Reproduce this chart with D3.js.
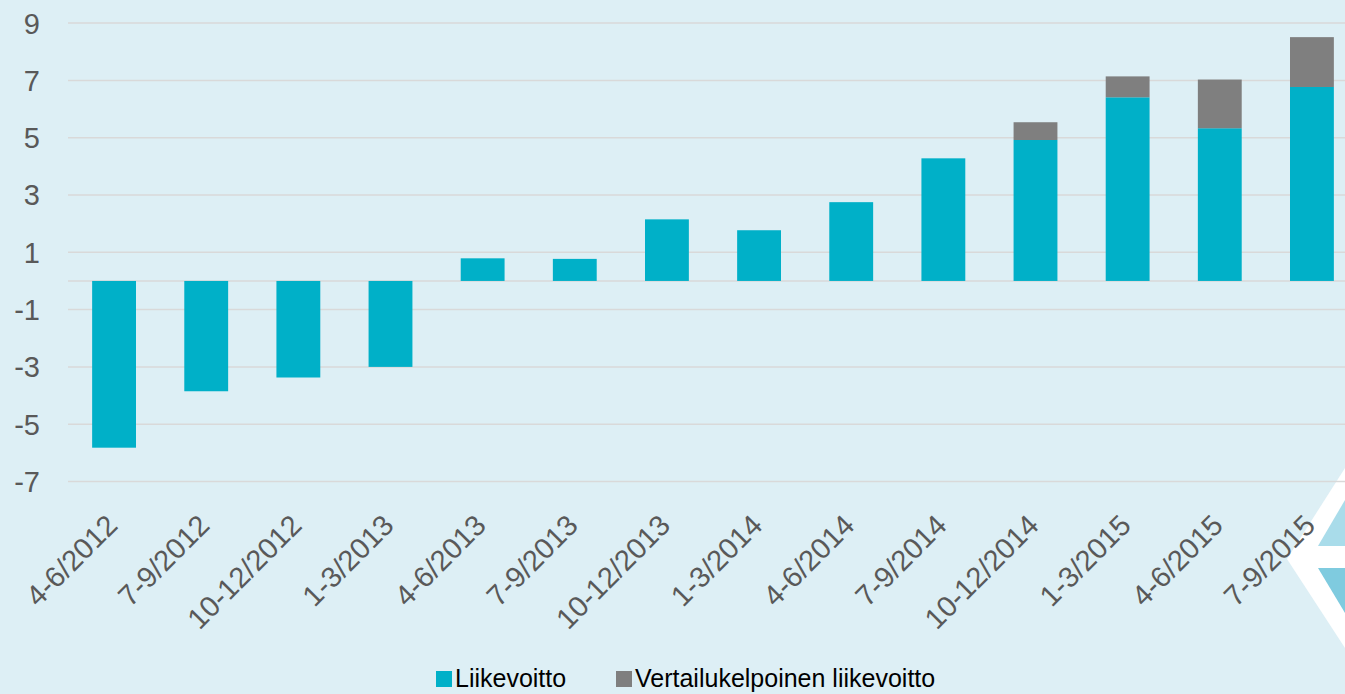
<!DOCTYPE html>
<html lang="fi">
<head>
    <meta charset="UTF-8">
    <title>Liikevoitto</title>
    <script src="https://d3js.org/d3.v7.min.js"></script>
    <style>
        body { margin: 0; background: #ddeff5; overflow: hidden; }
        svg { display: block; font-family: "Liberation Sans", Arial, sans-serif; }
    </style>
</head>
<body>
    <div id="chart"></div>
    <script>
        // data
        const quarters = ['4-6/2012', '7-9/2012', '10-12/2012', '1-3/2013', '4-6/2013', '7-9/2013',
            '10-12/2013', '1-3/2014', '4-6/2014', '7-9/2014', '10-12/2014', '1-3/2015', '4-6/2015', '7-9/2015'];
        const liikevoitto = [-5.82, -3.85, -3.37, -3.0, 0.79, 0.77, 2.15, 1.77, 2.75, 4.28, 4.92, 6.41, 5.33, 6.77];
        // stacked part on top of liikevoitto
        const vertailukelpoinen = [0, 0, 0, 0, 0, 0, 0, 0, 0, 0, 0.62, 0.73, 1.70, 1.74];
        const yTicks = [-7, -5, -3, -1, 1, 3, 5, 7, 9];
        const seriesNames = ['Liikevoitto', 'Vertailukelpoinen liikevoitto'];
        const colors = ['#00b0c8', '#7f7f7f'];

        const width = 1345, height = 694;
        const svg = d3.select('#chart').append('svg')
            .attr('width', width)
            .attr('height', height);

        // corner decoration
        const deco = svg.append('g');
        deco.append('polygon').attr('points', '1345,468 1287,559 1345,648').attr('fill', '#ffffff');
        deco.append('polygon').attr('points', '1345,500 1318,546 1345,546').attr('fill', '#a9dcea');
        deco.append('polygon').attr('points', '1318,568 1345,568 1345,613').attr('fill', '#7fcbdf');

        const x = d3.scaleBand()
            .domain(quarters)
            .range([68, 1358])
            .paddingInner(0.524)
            .paddingOuter(0.262);

        const y = d3.scaleLinear()
            .domain([-7, 9])
            .range([481.5, 23.1]);

        // gridlines
        svg.append('g')
            .selectAll('line')
            .data(yTicks.concat([0]))
            .join('line')
            .attr('x1', 68)
            .attr('x2', width)
            .attr('y1', d => y(d))
            .attr('y2', d => y(d))
            .attr('stroke', '#d9d9d9')
            .attr('stroke-width', 1.5);

        // y labels
        svg.append('g')
            .selectAll('text')
            .data(yTicks)
            .join('text')
            .attr('x', 40)
            .attr('y', d => y(d))
            .attr('dy', '0.36em')
            .attr('text-anchor', 'end')
            .attr('font-size', 29)
            .attr('fill', '#595959')
            .text(d => d);

        const rows = quarters.map((q, i) => ({ q, a: liikevoitto[i], b: vertailukelpoinen[i] }));
        const stack = d3.stack().keys(['a', 'b']).offset(d3.stackOffsetDiverging);
        const stacked = stack(rows);

        svg.append('g')
            .selectAll('g')
            .data(stacked)
            .join('g')
            .attr('fill', (d, i) => colors[i])
            .selectAll('rect')
            .data(d => d.filter(p => p[1] !== p[0]))
            .join('rect')
            .attr('x', d => x(d.data.q))
            .attr('width', x.bandwidth())
            .attr('y', d => y(Math.max(d[0], d[1])))
            .attr('height', d => Math.abs(y(d[0]) - y(d[1])));

        // x labels
        svg.append('g')
            .selectAll('text')
            .data(quarters)
            .join('text')
            .attr('transform', d => `translate(${x(d) + x.bandwidth() / 2 + 5},${527}) rotate(-45)`)
            .attr('text-anchor', 'end')
            .attr('font-size', 29)
            .attr('fill', '#595959')
            .text(d => d);

        // legend
        const legend = svg.append('g');
        const legendX = [436, 616];
        seriesNames.forEach((name, i) => {
            legend.append('rect')
                .attr('x', legendX[i])
                .attr('y', 671)
                .attr('width', 16)
                .attr('height', 16)
                .attr('fill', colors[i]);
            legend.append('text')
                .attr('x', legendX[i] + 19)
                .attr('y', 687)
                .attr('font-size', 25)
                .attr('fill', '#000')
                .text(name);
        });
    </script>
</body>
</html>
